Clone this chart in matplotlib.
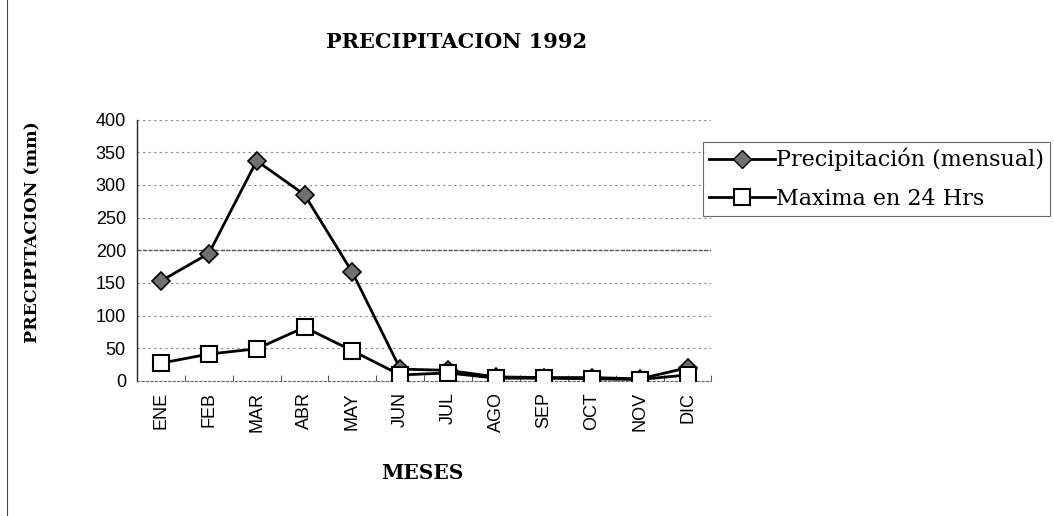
import numpy as np
import matplotlib.pyplot as plt
from matplotlib.lines import Line2D

meses = ['ENE', 'FEB', 'MAR', 'ABR', 'MAY', 'JUN', 'JUL', 'AGO', 'SEP', 'OCT', 'NOV', 'DIC']
precip_mensual = [153, 195, 337, 285, 166, 18, 16, 6, 5, 5, 3, 20]
maxima_24h = [27, 41, 49, 82, 46, 9, 12, 4, 4, 3, 2, 9]
yticks = [0, 50, 100, 150, 200, 250, 300, 350, 400]

SERIF = ['DejaVu Serif']
SANS = ['Liberation Sans', 'DejaVu Sans']

fig = plt.figure(figsize=(10.54, 5.16), dpi=100)
ax = fig.add_axes([0.130, 0.262, 0.545, 0.506])

x = np.arange(len(meses))
ax.plot(x, precip_mensual, color='black', lw=2, marker='D', ms=9,
        mfc='#707070', mec='black', mew=1.2, zorder=3)
ax.plot(x, maxima_24h, color='black', lw=2, marker='s', ms=11,
        mfc='white', mec='black', mew=1.5, zorder=4)

ax.set_xlim(-0.5, len(meses) - 0.5)
ax.set_ylim(0, 400)
ax.set_yticks(yticks)
ax.set_yticklabels([str(v) for v in yticks], family=SANS, fontsize=13)
ax.set_xticks(x)
ax.set_xticklabels(meses, rotation=90, family=SANS, fontsize=13)
ax.tick_params(axis='x', length=0, pad=8)
ax.tick_params(axis='y', length=0, pad=8)
# category separators on the x axis
ax.set_xticks(np.arange(-0.5, len(meses)), minor=True)
ax.tick_params(axis='x', which='minor', length=4, direction='in', color='#333333')

for v in yticks[1:]:
    ax.axhline(v, color='#888888', lw=0.8, ls=(0, (2, 3)), zorder=1)
ax.axhline(200, color='#555555', lw=1.0, ls=(0, (3, 1)), zorder=1)

for s in ['top', 'right']:
    ax.spines[s].set_visible(False)
ax.spines['left'].set_color('#222222')
ax.spines['left'].set_linewidth(1.0)
ax.spines['bottom'].set_color('#666666')
ax.spines['bottom'].set_linestyle((0, (2, 2)))
ax.spines['bottom'].set_linewidth(0.8)

fig.text(0.433, 0.918, 'PRECIPITACION 1992', ha='center', va='center',
         family=SERIF, fontweight='bold', fontsize=15)
fig.text(0.031, 0.55, 'PRECIPITACION (mm)', ha='center', va='center', rotation=90,
         family=SERIF, fontweight='bold', fontsize=12.5)
fig.text(0.401, 0.083, 'MESES', ha='center', va='center',
         family=SERIF, fontweight='bold', fontsize=14.5)

handles = [
    Line2D([], [], color='black', lw=2, marker='D', ms=9, mfc='#707070', mec='black'),
    Line2D([], [], color='black', lw=2, marker='s', ms=11, mfc='white', mec='black', mew=1.5),
]
leg = fig.legend(handles, ['Precipitación (mensual)', 'Maxima en 24 Hrs'],
                 loc='upper left', bbox_to_anchor=(0.667, 0.724),
                 prop={'family': SERIF, 'size': 16}, frameon=True, fancybox=False,
                 handlelength=3.0, handletextpad=0.05, borderpad=0.25, labelspacing=0.75,
                 borderaxespad=0)
leg.get_frame().set_edgecolor('#444444')
leg.get_frame().set_linewidth(0.8)

# left border of the chart area
fig.add_artist(Line2D([0.007, 0.007], [0.0, 1.0], color='#444444', lw=0.8,
                      transform=fig.transFigure))

fig.savefig('out.png', dpi=100)
